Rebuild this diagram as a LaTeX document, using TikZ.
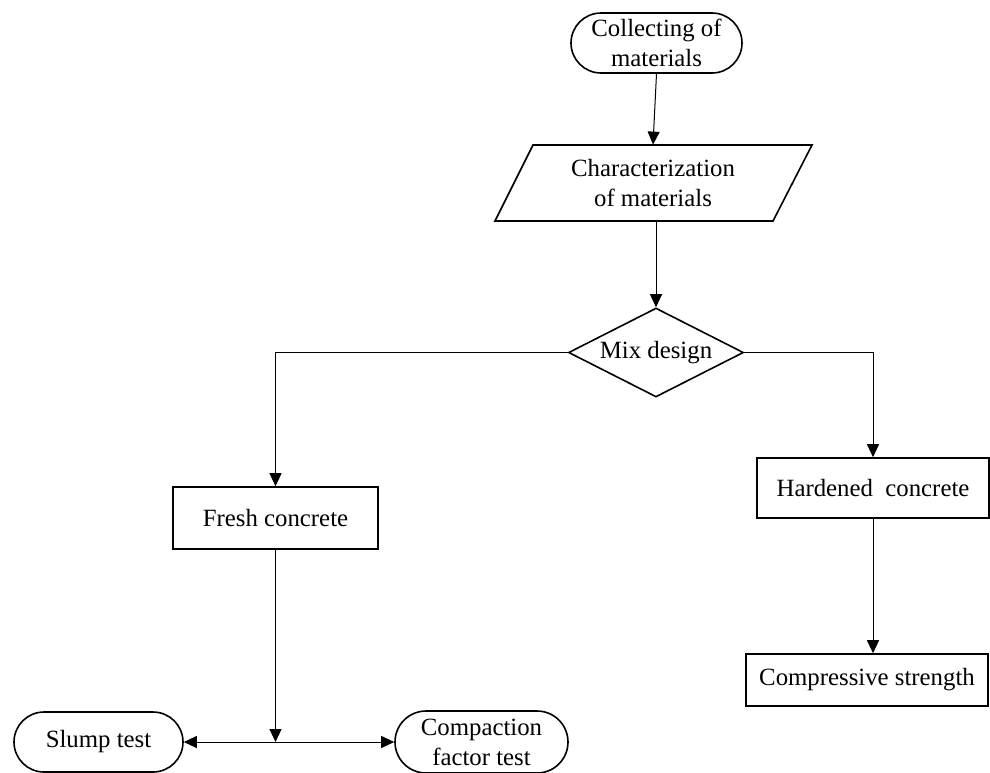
\documentclass[tikz,border=0pt]{standalone}
\usepackage{fontspec}
\setmainfont{Liberation Serif}
\usepackage{tikz}
\usetikzlibrary{shapes.geometric,shapes.misc,arrows.meta}

\tikzset{
	box/.style={draw,line width=0.8pt,rectangle,inner sep=1pt,align=center},
	terminal/.style={draw,line width=0.8pt,rounded rectangle,inner sep=1pt,align=center},
	decision/.style={draw,line width=0.8pt,diamond,inner sep=0pt,aspect=2,align=center},
	flow/.style={-{Triangle[length=6.5pt,width=6pt]},line width=0.5pt}
}

\begin{document}
\begin{tikzpicture}[x=0.5pt,y=-0.5pt,font=\fontsize{12.4pt}{15pt}\selectfont]
	\useasboundingbox (0,0) rectangle (990,772);
	\clip (0,0) rectangle (990,772);
	
	\node[terminal,minimum width=87.5pt,minimum height=30pt] (collect) at (656.5,43) {Collecting of\\materials};
	
	\draw[line width=0.8pt] (533,145) -- (812,145) -- (773,221) -- (495,221) -- cycle;
	\node[align=center,minimum width=120pt,minimum height=38pt,inner sep=0pt] (charac) at (653,183) {Characterization\\of materials};
	
	\node[decision,minimum width=87.5pt,minimum height=44.5pt] (mix) at (656,352.5) {Mix design};
	
	\node[box,minimum width=102.5pt,minimum height=31pt] (fresh) at (275.5,518) {Fresh concrete};
	\node[box,minimum width=116pt,minimum height=30pt] (hard) at (873,488) {Hardened~ concrete};
	\node[box,minimum width=121pt,minimum height=26pt] (comp) at (867,680) {Compressive strength};
	
	\node[terminal,minimum width=86.5pt,minimum height=30pt] (slump) at (98.5,742) {Slump test};
	\node[terminal,minimum width=88.5pt,minimum height=31pt] (compact) at (481.5,742) {Compaction\\factor test};
	
	\draw[flow] (collect.south) -- (charac.north);
	\draw[flow] (charac.south -| mix.north) -- (mix.north);
	\draw[flow] (mix.west) -| (fresh.north);
	\draw[flow] (mix.east) -| (hard.north);
	\draw[flow] (hard.south) -- (hard.south |- comp.north);
	
	\coordinate (split) at (fresh.south |- slump.east);
	\draw[flow] (fresh.south) -- (split);
	\draw[flow] (split) -- (slump.east);
	\draw[flow] (split) -- (compact.west);
\end{tikzpicture}
\end{document}
